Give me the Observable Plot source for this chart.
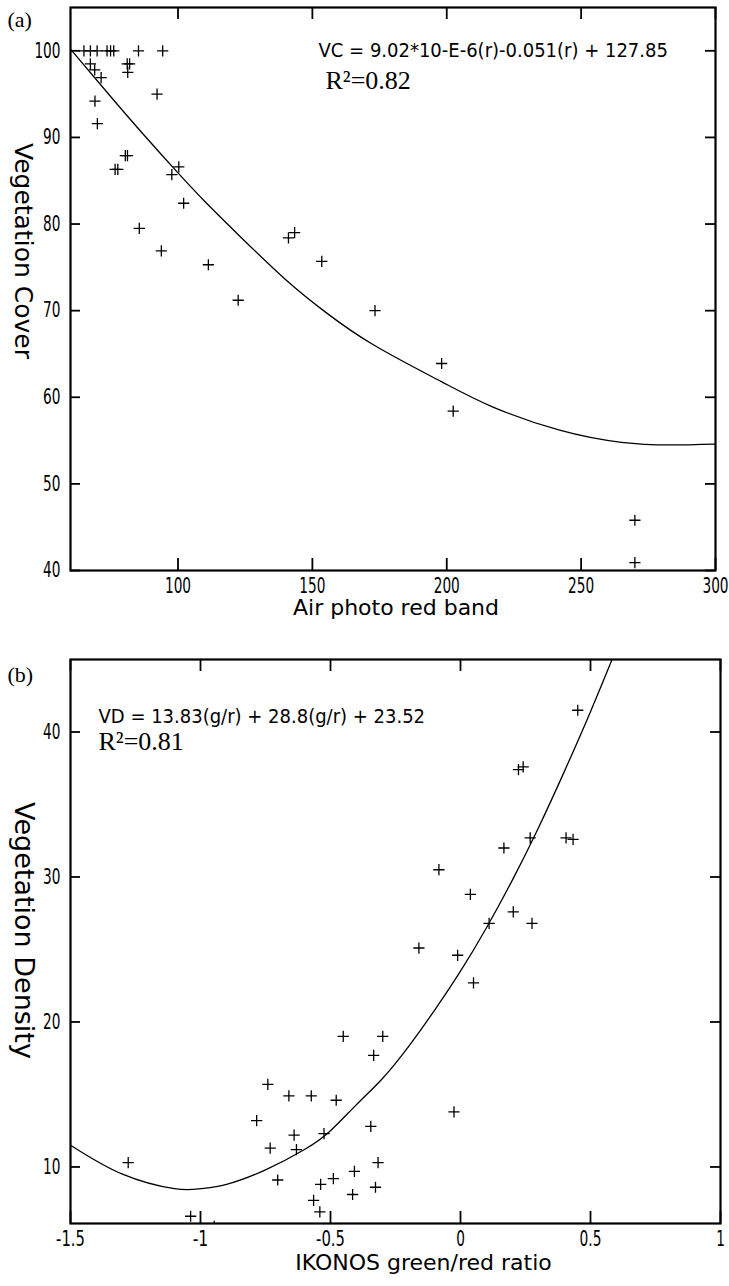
<!DOCTYPE html>
<html><head><meta charset="utf-8">
<script src="https://cdn.jsdelivr.net/npm/d3@7"></script>
<script src="https://cdn.jsdelivr.net/npm/@observablehq/plot@0.6"></script>
<style>
html,body{margin:0;padding:0;background:#fff;}
#wrap{position:relative;width:729px;height:1286px;overflow:hidden;background:#fff;}
#a,#b{position:absolute;left:0;}
#a{top:0;} #b{top:625px;}
</style></head>
<body><div id="wrap"><div id="a"></div><div id="b"></div></div>
<script>
// ---------- Panel (a): Vegetation cover vs air photo red band ----------
const redBand = [65.0, 67.4, 69.9, 73.6, 74.9, 76.1, 85.3, 94.3,
  67.4, 69.0, 71.4, 69.1, 70.0, 81.1, 82.0, 81.3, 92.2,
  76.6, 77.6, 80.4, 81.2, 97.7, 100.3, 102.1,
  85.6, 93.8, 111.3, 122.4, 141.1, 143.4, 153.5, 173.3, 198.1, 202.4, 270, 270];
const vegCover = [100, 100, 100, 100, 100, 100, 100, 100,
  98.5, 97.8, 96.9, 94.2, 91.6, 98.5, 98.5, 97.5, 95.0,
  86.3, 86.3, 87.9, 87.9, 85.7, 86.6, 82.4,
  79.5, 76.9, 75.3, 71.2, 78.4, 79.0, 75.7, 70.0, 63.9, 58.4, 45.8, 40.9];
const fitRedBand = [60, 75, 87, 100, 110, 123, 140, 155, 173, 198, 217, 242, 265, 283, 300];
const fitVegCover = [100.2, 94.7, 90.4, 85.9, 82.6, 78.6, 73.6, 69.8, 66.0, 61.8, 58.9, 56.2, 54.8, 54.5, 54.6];
const xTicksA = [100, 150, 200, 250, 300];
const yTicksA = [40, 50, 60, 70, 80, 90, 100];
const eqA = "VC = 9.02*10-E-6(r)-0.051(r) + 127.85";
const r2A = "R\u00B2=0.82";

// ---------- Panel (b): Vegetation density vs IKONOS green/red ratio ----------
const ratio = [0.451, 0.223, 0.241, 0.268, 0.406, 0.433, 0.167, -0.083,
  0.038, 0.203, 0.110, 0.275, -0.160, -0.011, 0.050,
  -0.451, -0.299, -0.334,
  -0.741, -0.660, -0.574, -0.478, -0.025, -0.784, -0.345, -0.640, -0.525, -0.732, -0.631,
  -1.278, -0.317, -0.408, -0.703, -0.489, -0.538, -0.327, -0.415, -0.565, -0.541, -1.038, -0.947];
const vegDensity = [41.5, 37.4, 37.6, 32.7, 32.7, 32.6, 32.0, 30.5,
  28.8, 27.6, 26.8, 26.8, 25.1, 24.6, 22.7,
  19.0, 19.0, 17.7,
  15.7, 14.9, 14.9, 14.6, 13.8, 13.2, 12.8, 12.2, 12.3, 11.3, 11.2,
  10.3, 10.3, 9.7, 9.1, 9.2, 8.8, 8.6, 8.1, 7.7, 6.9, 6.6, 5.9];
const fitRatio = [-1.5, -1.3, -1.1, -1.0, -0.9, -0.75, -0.6, -0.5, -0.4, -0.3, -0.2, -0.1, 0, 0.1, 0.2, 0.3, 0.4, 0.5, 0.583];
const fitVegDensity = [11.5, 9.5, 8.5, 8.5, 8.8, 9.8, 11.2, 12.5, 14.3, 16.1, 18.3, 20.8, 23.5, 26.5, 29.8, 33.4, 37.3, 41.4, 45];
const xTicksB = [-1.5, -1, -0.5, 0, 0.5, 1];
const xTickLabelsB = ["-1.5", "-1", "-0.5", "0", "0.5", "1"];
const yTicksB = [10, 20, 30, 40];
const eqB = "VD = 13.83(g/r) + 28.8(g/r) + 23.52";
const r2B = "R\u00B2=0.81";

const narrow = '"Liberation Sans Narrow", "Arial Narrow", "DejaVu Sans Condensed", "Roboto Condensed", "DejaVu Sans", sans-serif';
const serif = '"Liberation Serif", "Times New Roman", serif';
const gothic = '"DejaVu Sans", "Noto Sans", sans-serif';

const ptsA = redBand.map((x, i) => ({x, y: vegCover[i]}));
const fitA = fitRedBand.map((x, i) => ({x, y: fitVegCover[i]}));
const ptsB = ratio.map((x, i) => ({x, y: vegDensity[i]}));
const fitB = fitRatio.map((x, i) => ({x, y: fitVegDensity[i]}));

function panel({height, mt, mb, mr, ml, xDomain, yDomain, xTicks, xFmt, yTicks, pts, fit,
                tag, eq, eqPos, r2, r2Pos, tagPos, xTitle, xTitlePos, yTitle, yTitlePos, yTitleSize}) {
  const W = 729;
  const pw = W - ml - mr, ph = height - mt - mb;
  const tk = {stroke: "black", strokeOpacity: 1, strokeWidth: 1.8};
  return Plot.plot({
    width: W, height, marginTop: mt, marginBottom: mb, marginLeft: ml, marginRight: mr,
    style: {fontFamily: narrow, fontSize: "21px", color: "black", background: "white", overflow: "visible"},
    x: {domain: xDomain},
    y: {domain: yDomain},
    marks: [
      Plot.gridX(xTicks, {...tk, insetTop: ph - 12}),
      Plot.gridX(xTicks, {...tk, insetBottom: ph - 12}),
      Plot.gridY(yTicks, {...tk, insetRight: pw - 10}),
      Plot.gridY(yTicks, {...tk, insetLeft: pw - 10}),
      Plot.axisX(xTicks, {anchor: "bottom", tickSize: 0, tickPadding: 8, tickFormat: xFmt, label: null, fontSize: 21}),
      Plot.axisY(yTicks, {anchor: "left", tickSize: 0, tickPadding: 10, label: null, fontSize: 21}),
      Plot.line(fit, {x: "x", y: "y", curve: "natural", stroke: "black", strokeWidth: 1.3, clip: true}),
      Plot.dot(pts, {x: "x", y: "y", symbol: "plus", r: 3.7, stroke: "black", strokeWidth: 1.3, clip: true}),
      Plot.frame({stroke: "black", strokeWidth: 2.2}),
      Plot.text([eq], {frameAnchor: "top-left", textAnchor: "start", lineAnchor: "middle", dx: eqPos[0], dy: eqPos[1],
        fontFamily: narrow, fontSize: 20, fill: "black", ariaLabel: "eq"}),
      Plot.text([r2], {frameAnchor: "top-left", textAnchor: "start", lineAnchor: "middle", dx: r2Pos[0], dy: r2Pos[1],
        fontFamily: serif, fontSize: 26, fill: "black", ariaLabel: "r2"}),
      Plot.text([tag], {frameAnchor: "top-left", textAnchor: "start", lineAnchor: "middle", dx: tagPos[0], dy: tagPos[1],
        fontFamily: serif, fontSize: 22, fill: "black", ariaLabel: "tag"}),
      Plot.text([xTitle], {frameAnchor: "bottom", textAnchor: "middle", lineAnchor: "middle", dx: xTitlePos[0], dy: xTitlePos[1],
        fontFamily: gothic, fontSize: 22, fill: "black", ariaLabel: "xtitle"}),
      Plot.text([yTitle], {frameAnchor: "left", textAnchor: "middle", lineAnchor: "middle", rotate: 90, dx: yTitlePos[0], dy: yTitlePos[1],
        fontFamily: gothic, fontSize: yTitleSize, fill: "black", ariaLabel: "ytitle"})
    ]
  });
}

// per-character widths for the condensed tick digits of the original
function labelWidth(s) {
  let w = 0;
  for (const c of s) w += c === "." ? 4.5 : c === "-" ? 7 : 8.7;
  return w;
}

function fixText(svg, lengths) {
  for (const [label, len, adj] of lengths) {
    const t = svg.querySelector(`g[aria-label="${label}"] text`);
    if (t) { t.setAttribute("textLength", len); t.setAttribute("lengthAdjust", adj); }
  }
  svg.querySelectorAll('g[aria-label="x-axis tick label"] text, g[aria-label="y-axis tick label"] text').forEach(t => {
    t.setAttribute("textLength", labelWidth(t.textContent));
    t.setAttribute("lengthAdjust", "spacingAndGlyphs");
  });
  const tag = svg.querySelector('g[aria-label="tag"] text');
  if (tag) {
    const s = tag.textContent;
    tag.textContent = "";
    const ns = "http://www.w3.org/2000/svg";
    const parts = [["(", "normal"], [s.slice(1, -1), "italic"], [")", "normal"]];
    for (const [p, st] of parts) {
      const ts = document.createElementNS(ns, "tspan");
      ts.setAttribute("font-style", st);
      ts.textContent = p;
      tag.appendChild(ts);
    }
  }
}

const svgA = panel({
  height: 625, mt: 7, mb: 55, ml: 70, mr: 14,
  xDomain: [60, 300], yDomain: [40, 105], xTicks: xTicksA, xFmt: d => String(d), yTicks: yTicksA,
  pts: ptsA, fit: fitA, tag: "(a)", tagPos: [-63, 12],
  eq: eqA, eqPos: [248, 43], r2: r2A, r2Pos: [255, 73],
  xTitle: "Air photo red band", xTitlePos: [3, 37],
  yTitle: "Vegetation Cover", yTitlePos: [-48, -38], yTitleSize: 25
});
fixText(svgA, [["eq", 327, "spacingAndGlyphs"], ["r2", 86, "spacingAndGlyphs"], ["xtitle", 229, "spacing"], ["ytitle", 254, "spacing"]]);
document.getElementById("a").appendChild(svgA);

const svgB = panel({
  height: 661, mt: 34, mb: 63, ml: 70, mr: 9,
  xDomain: [-1.5, 1], yDomain: [6.1, 45], xTicks: xTicksB, xFmt: d => xTickLabelsB[xTicksB.indexOf(d)], yTicks: yTicksB,
  pts: ptsB, fit: fitB, tag: "(b)", tagPos: [-63, 15],
  eq: eqB, eqPos: [28, 57], r2: r2B, r2Pos: [28, 82],
  xTitle: "IKONOS green/red ratio", xTitlePos: [28, 39],
  yTitle: "Vegetation Density", yTitlePos: [-47, -11], yTitleSize: 27
});
fixText(svgB, [["eq", 304, "spacingAndGlyphs"], ["r2", 87, "spacingAndGlyphs"], ["xtitle", 285, "spacing"], ["ytitle", 320, "spacing"]]);
document.getElementById("b").appendChild(svgB);
</script>
</body></html>
